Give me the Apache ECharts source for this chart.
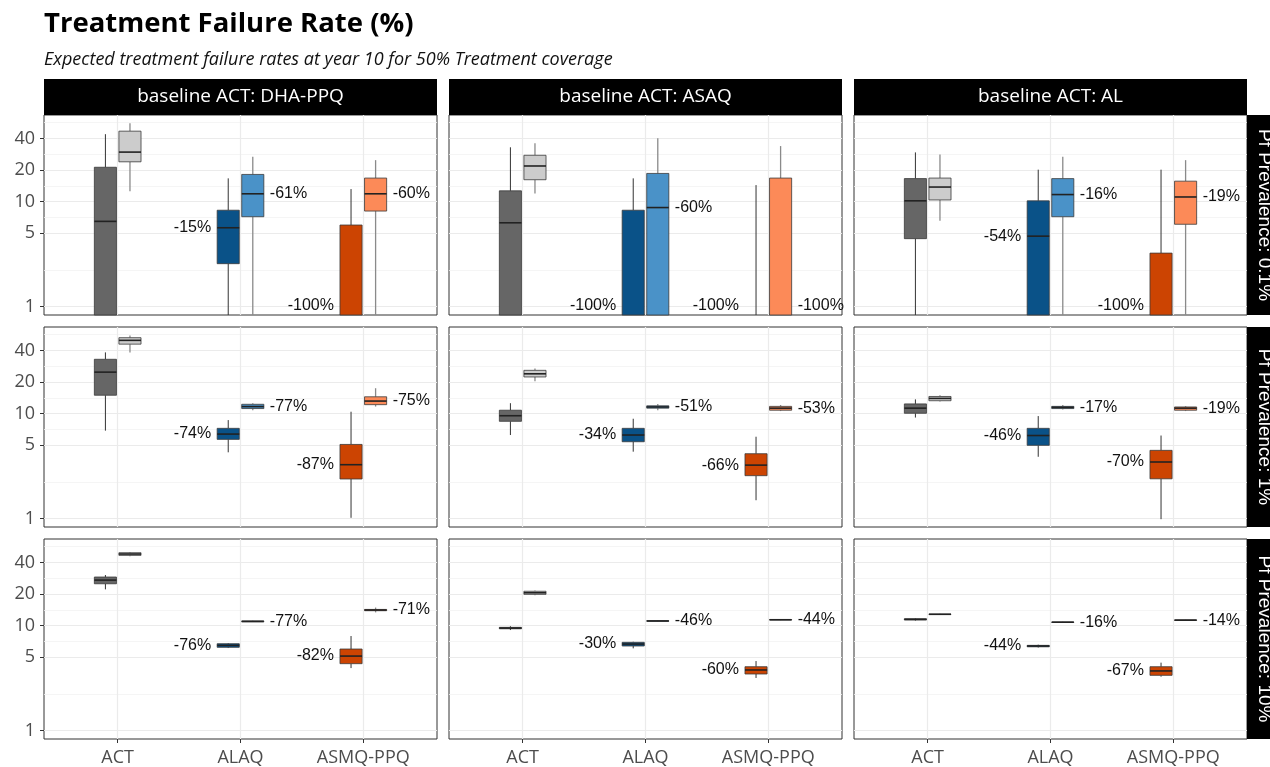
<!DOCTYPE html>
<html>
<head>
<meta charset="utf-8">
<title>Treatment Failure Rate (%)</title>
<script src="https://cdn.jsdelivr.net/npm/echarts@6/dist/echarts.min.js"></script>
<style>
  html, body { margin: 0; padding: 0; background: #fff; }
  #chart { width: 1270px; height: 767px; }
</style>
</head>
<body>
<div id="chart"></div>
<script>
// facet labels
const baselineACTs = ['baseline ACT: DHA-PPQ', 'baseline ACT: ASAQ', 'baseline ACT: AL']
const prevalences = ['Pf Prevalence: 0.1%', 'Pf Prevalence: 1%', 'Pf Prevalence: 10%']
const drugs = ['ACT', 'ALAQ', 'ASMQ-PPQ']
const yTicks = [1, 5, 10, 20, 40]
const yMinorTicks = [2.236, 7.071, 14.14, 28.28, 56.57]

// one box per row: [min, q1, median, q3, max]
// order: ACT, ACT', ALAQ, ALAQ', ASMQ-PPQ, ASMQ-PPQ'  (dark / light fill)
// 0 = no failures -> sits below the floor of the log scale
const boxesDha01 = [
  [0, 0, 6.5, 21.3, 44], [12.6, 24, 29.7, 47, 55.8],
  [0, 2.57, 5.65, 8.3, 16.7], [0, 7.2, 11.9, 18.2, 26.8],
  [0, 0, 0, 6.0, 13.2], [0, 8.15, 11.9, 16.8, 24.9]
]
const boxesAsaq01 = [
  [0, 0, 6.3, 12.7, 33], [12, 16.2, 21.9, 27.7, 36],
  [0, 0, 0, 8.3, 16.7], [0, 0, 8.8, 18.6, 40.2],
  [0, 0, 0, 0, 14.4], [0, 0, 0, 16.8, 33.9]
]
const boxesAl01 = [
  [0, 4.45, 10.2, 16.6, 29.5], [6.6, 10.4, 13.8, 16.8, 28.2],
  [0, 0, 4.7, 10.2, 20.2], [0, 7.2, 11.7, 16.6, 26.8],
  [0, 0, 0, 3.24, 20.2], [0, 6.1, 11.1, 15.7, 24.9]
]
const boxesDha1 = [
  [6.9, 15, 24.9, 33, 38.4], [38.4, 46, 50, 53, 55.5],
  [4.29, 5.7, 6.4, 7.26, 8.7], [10.8, 11.2, 11.7, 12.3, 12.6],
  [1.02, 2.39, 3.27, 5.1, 10.45], [11.7, 12.2, 13.2, 14.5, 17.5]
]
const boxesAsaq1 = [
  [6.27, 8.47, 9.57, 10.8, 12.6], [20.4, 22.4, 24, 25.9, 27],
  [4.35, 5.41, 6.27, 7.26, 8.96], [10.8, 11.3, 11.6, 11.9, 12.4],
  [1.5, 2.57, 3.24, 4.16, 6.04], [10.6, 10.8, 11.3, 11.75, 12.1]
]
const boxesAl1 = [
  [9.2, 10.1, 11.3, 12.4, 13.7], [13.1, 13.3, 14, 14.6, 15],
  [3.89, 5, 6.2, 7.26, 9.5], [10.95, 11.2, 11.5, 11.75, 12.1],
  [0.99, 2.4, 3.47, 4.48, 6.2], [10.6, 10.8, 11.3, 11.6, 11.8]
]
const boxesDha10 = [
  [22.2, 25.1, 27.2, 29.1, 30.4], [46, 46.8, 48.2, 49.6, 50.3],
  [6.13, 6.23, 6.5, 6.74, 6.84], [10.85, 10.9, 11, 11.1, 11.15],
  [3.95, 4.35, 5.14, 6, 7.98], [13.4, 13.9, 14.1, 14.3, 14.9]
]
const boxesAsaq10 = [
  [9.1, 9.35, 9.5, 9.65, 9.9], [19.5, 19.9, 20.6, 21.3, 21.7],
  [6.09, 6.41, 6.69, 6.95, 7.04], [10.95, 11.05, 11.1, 11.15, 11.25],
  [3.18, 3.47, 3.79, 4.07, 4.61], [11.3, 11.35, 11.4, 11.45, 11.5]
]
const boxesAl10 = [
  [11.2, 11.35, 11.5, 11.65, 11.8], [12.7, 12.8, 12.85, 12.9, 13],
  [6.2, 6.3, 6.41, 6.5, 6.6], [10.7, 10.75, 10.8, 10.85, 10.9],
  [3.27, 3.37, 3.71, 4.07, 4.45], [11.2, 11.25, 11.3, 11.35, 11.4]
]

// relative change labels, same order as the boxes
const labelsDha01 = ['', '', '-15%', '-61%', '-100%', '-60%']
const labelsAsaq01 = ['', '', '-100%', '-60%', '-100%', '-100%']
const labelsAl01 = ['', '', '-54%', '-16%', '-100%', '-19%']
const labelsDha1 = ['', '', '-74%', '-77%', '-87%', '-75%']
const labelsAsaq1 = ['', '', '-34%', '-51%', '-66%', '-53%']
const labelsAl1 = ['', '', '-46%', '-17%', '-70%', '-19%']
const labelsDha10 = ['', '', '-76%', '-77%', '-82%', '-71%']
const labelsAsaq10 = ['', '', '-30%', '-46%', '-60%', '-44%']
const labelsAl10 = ['', '', '-44%', '-16%', '-67%', '-14%']

const panels = [
  [boxesDha01, labelsDha01], [boxesAsaq01, labelsAsaq01], [boxesAl01, labelsAl01],
  [boxesDha1, labelsDha1], [boxesAsaq1, labelsAsaq1], [boxesAl1, labelsAl1],
  [boxesDha10, labelsDha10], [boxesAsaq10, labelsAsaq10], [boxesAl10, labelsAl10]
]

const fills = [['#666666', '#cccccc'], ['#0a5288', '#4a92c8'], ['#cc4402', '#fc8a58']]

const gridLeft = [44, 449, 854]
const gridTop = [115, 327, 539]
const gridW = 393
const gridH = 200
const yMin = 0.834
const yMax = 67
const axisFont = 'Open Sans'

function boxRenderer(labels) {
  return function(params, api) {
    const drug = api.value(0)
    const variant = api.value(1)
    const lo = api.value(2)
    const q1 = api.value(3)
    const med = api.value(4)
    const q3 = api.value(5)
    const hi = api.value(6)
    const cs = params.coordSys
    const floor = cs.y + cs.height
    const yOf = (v) => (v > 0 ? api.coord([drug, v])[1] : floor)
    const c = drug + (variant === 0 ? -0.1 : 0.1)
    const xc = api.coord([c, 1])[0]
    const x0 = api.coord([c - 0.09, 1])[0]
    const x1 = api.coord([c + 0.09, 1])[0]
    const dark = variant === 0
    const whisker = { stroke: dark ? '#333333' : '#8a8a8a', lineWidth: dark ? 1 : 1.3 }
    const children = [
      { type: 'line', shape: { x1: xc, y1: yOf(hi), x2: xc, y2: yOf(q3) }, style: whisker },
      { type: 'line', shape: { x1: xc, y1: yOf(q1), x2: xc, y2: yOf(lo) }, style: whisker }
    ]
    if (q3 > 0) {
      children.push({
        type: 'rect',
        shape: { x: x0, y: yOf(q3), width: x1 - x0, height: yOf(q1) - yOf(q3) },
        style: { fill: fills[drug - 1][variant], stroke: '#3a3a3a', lineWidth: 0.8 }
      })
    }
    if (med > 0) {
      children.push({
        type: 'line',
        shape: { x1: x0, y1: yOf(med), x2: x1, y2: yOf(med) },
        style: { stroke: '#222222', lineWidth: 1.6 }
      })
    }
    const txt = labels[params.dataIndex]
    if (txt) {
      children.push({
        type: 'text',
        x: dark ? x0 - 6 : x1 + 6,
        y: med > 0 ? yOf(med) : floor - 9,
        style: {
          text: txt,
          fill: '#111111',
          font: '16px "Liberation Sans", Arial, sans-serif',
          align: dark ? 'right' : 'left',
          verticalAlign: 'middle'
        }
      })
    }
    return { type: 'group', children: children }
  }
}

const grids = []
const xAxes = []
const yAxes = []
const series = []
const graphics = []

panels.forEach(function(p, i) {
  const row = Math.floor(i / 3)
  const col = i % 3
  grids.push({
    left: gridLeft[col], top: gridTop[row], width: gridW, height: gridH,
    show: true, borderColor: '#333333', borderWidth: 1, backgroundColor: '#ffffff'
  })
  xAxes.push({
    type: 'value', gridIndex: i, min: 0.4, max: 3.6, position: 'bottom',
    axisLine: { show: false },
    axisTick: { show: row === 2, customValues: [1, 2, 3], length: 4, lineStyle: { color: '#333333' } },
    axisLabel: {
      show: row === 2, customValues: [1, 2, 3], margin: 10,
      formatter: (v) => drugs[Math.round(v) - 1],
      color: '#4d4d4d', fontFamily: axisFont, fontSize: 18
    },
    splitLine: { show: true, lineStyle: { color: '#ebebeb', width: 1.2 } }
  })
  // minor grid first so the major lines sit above it
  yAxes.push({
    type: 'log', logBase: 10, gridIndex: i, min: yMin, max: yMax, position: 'left',
    axisLine: { show: false },
    axisTick: { show: false, customValues: yMinorTicks },
    axisLabel: { show: false },
    splitLine: { show: true, lineStyle: { color: '#f3f3f3', width: 0.8 } }
  })
  yAxes.push({
    type: 'log', logBase: 10, gridIndex: i, min: yMin, max: yMax, position: 'left',
    axisLine: { show: false },
    axisTick: { show: col === 0, customValues: yTicks, length: 4, lineStyle: { color: '#333333' } },
    axisLabel: {
      show: col === 0, customValues: yTicks, margin: 9,
      color: '#4d4d4d', fontFamily: axisFont, fontSize: 18
    },
    splitLine: { show: true, lineStyle: { color: '#ebebeb', width: 1.2 } }
  })
  series.push({
    type: 'custom',
    xAxisIndex: i,
    yAxisIndex: i * 2 + 1,
    encode: { x: 0, y: 4 },
    renderItem: boxRenderer(p[1]),
    data: p[0].map((b, k) => [Math.floor(k / 2) + 1, k % 2].concat(b)),
    z: 5
  })
})

// facet strips
baselineACTs.forEach(function(name, col) {
  graphics.push({
    type: 'rect', left: gridLeft[col], top: 79,
    shape: { width: gridW, height: 36 },
    style: { fill: '#000000' }
  })
  graphics.push({
    type: 'text', x: gridLeft[col] + gridW / 2, y: 97,
    style: {
      text: name, fill: '#ffffff', font: '19px "Open Sans", sans-serif',
      align: 'center', verticalAlign: 'middle'
    }
  })
})
prevalences.forEach(function(name, row) {
  graphics.push({
    type: 'rect', left: 1247, top: gridTop[row],
    shape: { width: 30, height: gridH },
    style: { fill: '#000000' }
  })
  graphics.push({
    type: 'text', x: 1264, y: gridTop[row] + gridH / 2, rotation: -Math.PI / 2,
    style: {
      text: name, fill: '#ffffff', font: '19px "Liberation Sans", Arial, sans-serif',
      align: 'center', verticalAlign: 'middle'
    }
  })
})

const chart = echarts.init(document.getElementById('chart'), null, { renderer: 'canvas' })
chart.setOption({
  backgroundColor: '#ffffff',
  animation: false,
  title: {
    text: 'Treatment Failure Rate (%)',
    subtext: 'Expected treatment failure rates at year 10 for 50% Treatment coverage',
    left: 39, top: 5, itemGap: 13,
    textStyle: { fontFamily: 'Open Sans', fontWeight: 'bold', fontSize: 27.5, color: '#000000' },
    subtextStyle: { fontFamily: 'Open Sans', fontStyle: 'italic', fontSize: 18, color: '#111111' }
  },
  grid: grids,
  xAxis: xAxes,
  yAxis: yAxes,
  series: series,
  graphic: graphics
})
</script>
</body>
</html>
